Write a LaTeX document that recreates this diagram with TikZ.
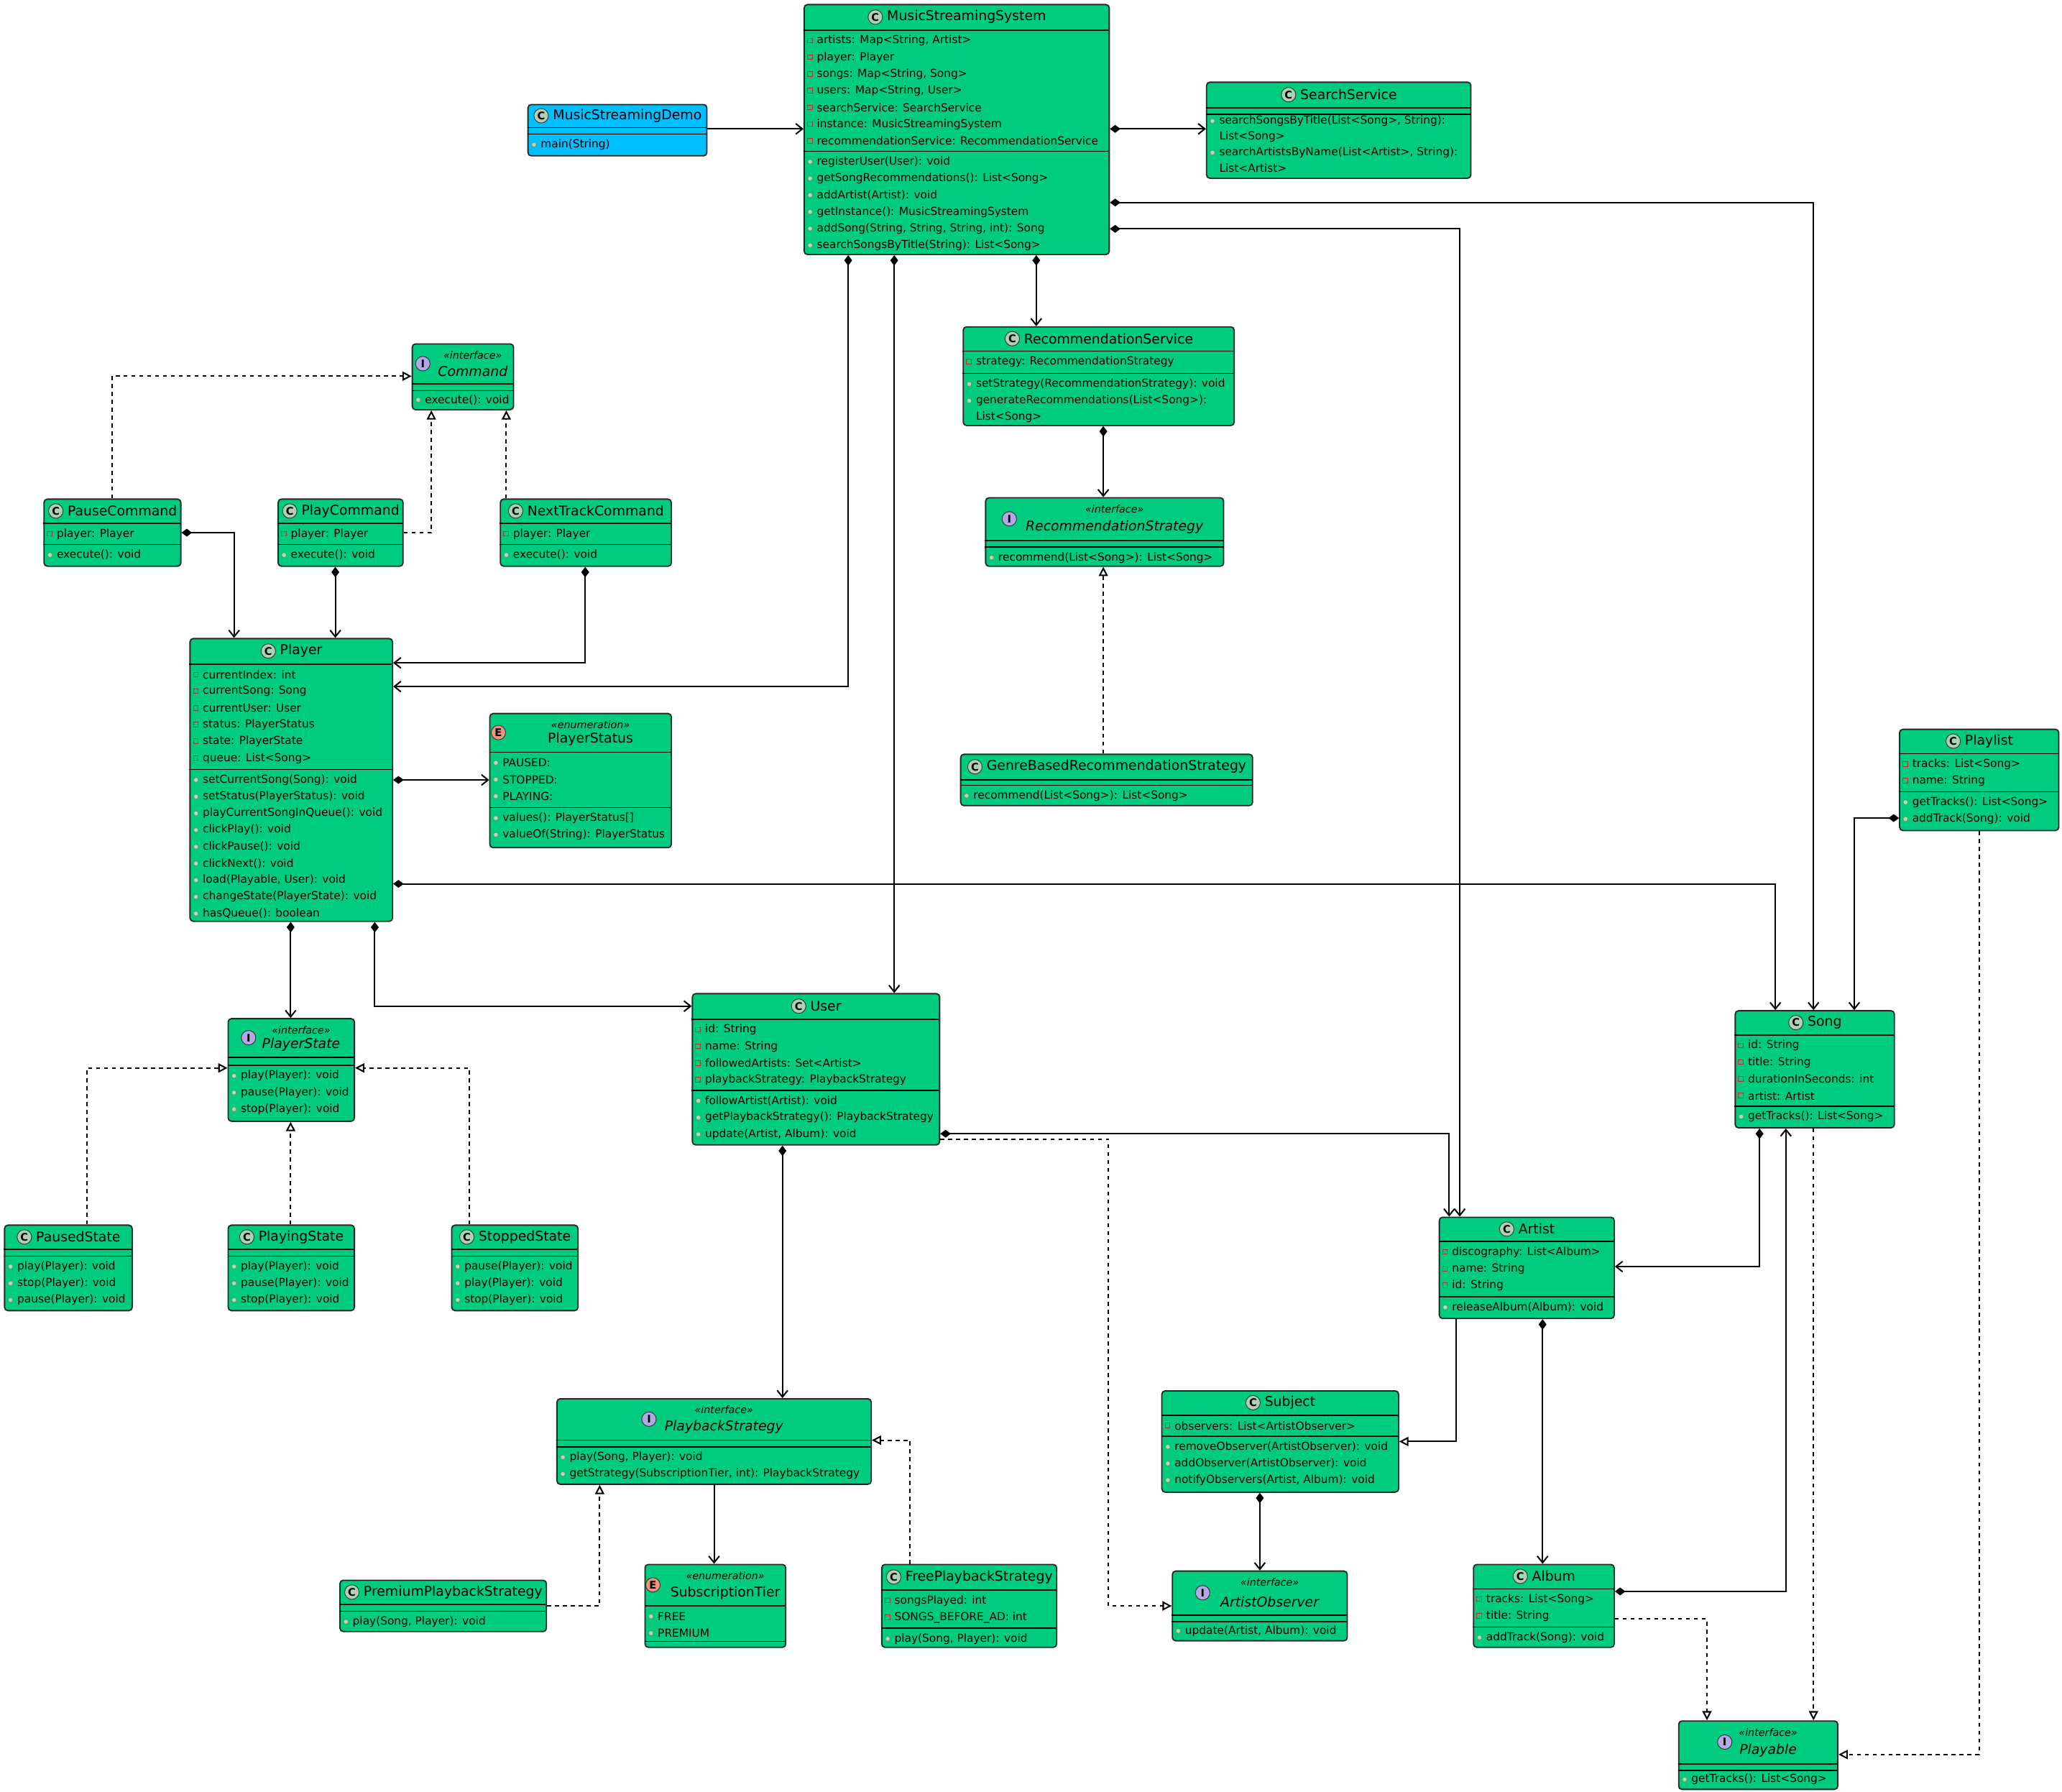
\documentclass[tikz,border=0pt]{standalone}
\usepackage{fontspec}
\setmainfont{DejaVu Sans}
\usetikzlibrary{arrows.meta,positioning}
\definecolor{cfill}{HTML}{00CC80}
\definecolor{dfill}{HTML}{00BFFF}
\definecolor{cc}{HTML}{ADD1B2}
\definecolor{ci}{HTML}{B4A7E5}
\definecolor{ce}{HTML}{EB937F}
\definecolor{privc}{HTML}{C82930}
\definecolor{pubc}{HTML}{84BE84}
\tikzset{
 cbox/.style={draw=black!85,line width=1pt,rounded corners=2.5pt,inner sep=0pt},
 mem/.style={font=\fontsize{8.4}{9}\selectfont,inner sep=0pt,anchor=west},
 ttl/.style={font=\fontsize{10.3}{12}\selectfont,inner sep=0pt},
 ster/.style={font=\fontsize{7.8}{9}\selectfont\itshape,inner sep=0pt},
 circ/.style={circle,draw=black!80,line width=0.5pt,inner sep=0pt,minimum size=11pt,font=\fontsize{8}{8}\selectfont\bfseries},
 comp/.style={line width=1.1pt,{Diamond[length=8pt,width=6pt]}-{Straight Barb[length=5pt,width=8pt]}},
 assoc/.style={line width=1.1pt,-{Straight Barb[length=5pt,width=8pt]}},
 real/.style={line width=1.1pt,dash pattern=on 3pt off 3pt,-{Triangle[open,length=7pt,width=7pt,fill=white]}},
 ext/.style={line width=1.1pt,-{Triangle[open,length=7pt,width=7pt,fill=white]}},
}
\newcommand\clsbox[6]{\node[cbox,fill=#6,minimum width={#4-#2},minimum height={#5-#3},anchor=north west] (#1) at (#2,#3) {};}
\newcommand\phead[7]{\node[ttl] (tmpt) at ({(#1+#2)/2+8},{(#3+#4)/2}) {#7};
 \node[circ,fill=#6,left=3pt of tmpt] {#5};
 \draw[line width=0.9pt] (#1,#4)--(#2,#4);}
\newcommand\sep[3]{\draw[line width=0.9pt] (#1,#3)--(#2,#3);}
\newcommand\rows[4]{\foreach \t [count=\i] in {#4} {
 \node[mem] at ({#1+10},{#2+8+(\i-1)*12.7}) {\t};
 \ifx#3p\draw[privc,line width=0.5pt] ({#1+3},{#2+6+(\i-1)*12.7}) rectangle ++(3.6,3.6);\fi
 \ifx#3u\draw[pubc!80!black,fill=pubc!60,line width=0.4pt] ({#1+5},{#2+8+(\i-1)*12.7}) circle (1.8);\fi
}}
\newcommand\sheadc[9]{\node[ster] (tmps) at ({(#1+#2)/2+8},{#3+9}) {#7};
 \node[ttl] (tmpt) at ({(#1+#2)/2+8},{#4-10}) {#8};
 \node[circ,fill=#6] at ({(#1+#2)/2+8-#9},{(#3+#4)/2}) {#5};
 \draw[line width=0.9pt] (#1,#4)--(#2,#4);}
\begin{document}
\begin{tikzpicture}[x=1pt,y=-1pt]
\useasboundingbox (0,0) rectangle (1568,1362);
% MusicStreamingDemo
\clsbox{demo}{401}{79}{537}{118}{dfill}
\phead{401}{537}{79}{97}{C}{cc}{MusicStreamingDemo}
\sep{401}{537}{102}
\rows{401}{102}{u}{{main(String)}}
% MusicStreamingSystem
\clsbox{mss}{611}{3}{843}{193}{cfill}
\phead{611}{843}{3}{23}{C}{cc}{MusicStreamingSystem}
\rows{611}{23}{p}{{artists: Map<String, Artist>},{player: Player},{songs: Map<String, Song>},{users: Map<String, User>},{searchService: SearchService},{instance: MusicStreamingSystem},{recommendationService: RecommendationService}}
\sep{611}{843}{115}
\rows{611}{115}{u}{{registerUser(User): void},{getSongRecommendations(): List<Song>},{addArtist(Artist): void},{getInstance(): MusicStreamingSystem},{addSong(String, String, String, int): Song},{searchSongsByTitle(String): List<Song>}}
% SearchService
\clsbox{ss}{917}{62}{1118}{135}{cfill}
\phead{917}{1118}{62}{82}{C}{cc}{SearchService}
\sep{917}{1118}{87}
\rows{917}{84}{u}{{searchSongsByTitle(List<Song>, String):}}
\rows{917}{96}{n}{{List<Song>}}
\rows{917}{108}{u}{{searchArtistsByName(List<Artist>, String):}}
\rows{917}{120}{n}{{List<Artist>}}
% RecommendationService
\clsbox{rs}{732}{248}{938}{323}{cfill}
\phead{732}{938}{248}{267}{C}{cc}{RecommendationService}
\rows{732}{267}{p}{{strategy: RecommendationStrategy}}
\sep{732}{938}{284}
\rows{732}{284}{u}{{setStrategy(RecommendationStrategy): void},{generateRecommendations(List<Song>):}}
\rows{732}{309.4}{n}{{List<Song>}}
% RecommendationStrategy
\clsbox{rst}{749}{378}{930}{430}{cfill}
\sheadc{749}{930}{378}{411}{I}{ci}{«interface»}{\itshape RecommendationStrategy}{80}
\sep{749}{930}{416}
\rows{749}{416}{u}{{recommend(List<Song>): List<Song>}}
% GenreBased
\clsbox{gb}{730}{573}{952}{612}{cfill}
\phead{730}{952}{573}{593}{C}{cc}{GenreBasedRecommendationStrategy}
\sep{730}{952}{597}
\rows{730}{597}{u}{{recommend(List<Song>): List<Song>}}
% Command
\clsbox{cmd}{313}{261}{390}{311}{cfill}
\sheadc{313}{390}{261}{292}{I}{ci}{«interface»}{\itshape Command}{38}
\sep{313}{390}{297}
\rows{313}{296}{u}{{execute(): void}}
% PauseCommand
\clsbox{pc}{33}{379}{137}{430}{cfill}
\phead{33}{137}{379}{398}{C}{cc}{PauseCommand}
\rows{33}{398}{p}{{player: Player}}
\sep{33}{137}{414}
\rows{33}{414}{u}{{execute(): void}}
% PlayCommand
\clsbox{plc}{211}{379}{306}{430}{cfill}
\phead{211}{306}{379}{398}{C}{cc}{PlayCommand}
\rows{211}{398}{p}{{player: Player}}
\sep{211}{306}{414}
\rows{211}{414}{u}{{execute(): void}}
% NextTrackCommand
\clsbox{nc}{380}{379}{510}{430}{cfill}
\phead{380}{510}{379}{398}{C}{cc}{NextTrackCommand}
\rows{380}{398}{p}{{player: Player}}
\sep{380}{510}{414}
\rows{380}{414}{u}{{execute(): void}}
% Player
\clsbox{pl}{144}{485}{298}{700}{cfill}
\phead{144}{298}{485}{505}{C}{cc}{Player}
\rows{144}{505}{p}{{currentIndex: int},{currentSong: Song},{currentUser: User},{status: PlayerStatus},{state: PlayerState},{queue: List<Song>}}
\sep{144}{298}{585}
\rows{144}{585}{u}{{setCurrentSong(Song): void},{setStatus(PlayerStatus): void},{playCurrentSongInQueue(): void},{clickPlay(): void},{clickPause(): void},{clickNext(): void},{load(Playable, User): void},{changeState(PlayerState): void},{hasQueue(): boolean}}
% PlayerStatus
\clsbox{ps}{372}{542}{510}{644}{cfill}
\sheadc{372}{510}{542}{572}{E}{ce}{«enumeration»}{PlayerStatus}{70}
\rows{372}{572}{u}{{PAUSED:},{STOPPED:},{PLAYING:}}
\sep{372}{510}{614}
\rows{372}{614}{u}{{values(): PlayerStatus[]},{valueOf(String): PlayerStatus}}
% PlayerState
\clsbox{pst}{173}{774}{269}{852}{cfill}
\sheadc{173}{269}{774}{804}{I}{ci}{«interface»}{\itshape PlayerState}{40}
\sep{173}{269}{810}
\rows{173}{810}{u}{{play(Player): void},{pause(Player): void},{stop(Player): void}}
% states
\clsbox{pas}{3}{931}{100}{996}{cfill}
\phead{3}{100}{931}{950}{C}{cc}{PausedState}
\sep{3}{100}{955}
\rows{3}{955}{u}{{play(Player): void},{stop(Player): void},{pause(Player): void}}
\clsbox{pys}{173}{931}{269}{996}{cfill}
\phead{173}{269}{931}{950}{C}{cc}{PlayingState}
\sep{173}{269}{955}
\rows{173}{955}{u}{{play(Player): void},{pause(Player): void},{stop(Player): void}}
\clsbox{sts}{343}{931}{439}{996}{cfill}
\phead{343}{439}{931}{950}{C}{cc}{StoppedState}
\sep{343}{439}{955}
\rows{343}{955}{u}{{pause(Player): void},{play(Player): void},{stop(Player): void}}
% User
\clsbox{us}{526}{755}{714}{870}{cfill}
\phead{526}{714}{755}{775}{C}{cc}{User}
\rows{526}{775}{p}{{id: String},{name: String},{followedArtists: Set<Artist>},{playbackStrategy: PlaybackStrategy}}
\sep{526}{714}{829}
\rows{526}{829}{u}{{followArtist(Artist): void},{getPlaybackStrategy(): PlaybackStrategy},{update(Artist, Album): void}}
% PlaybackStrategy
\clsbox{pbs}{423}{1063}{662}{1128}{cfill}
\sheadc{423}{662}{1063}{1095}{I}{ci}{«interface»}{\itshape PlaybackStrategy}{57}
\sep{423}{662}{1100}
\rows{423}{1100}{u}{{play(Song, Player): void},{getStrategy(SubscriptionTier, int): PlaybackStrategy}}
% Premium
\clsbox{pps}{258}{1201}{415}{1240}{cfill}
\phead{258}{415}{1201}{1220}{C}{cc}{PremiumPlaybackStrategy}
\sep{258}{415}{1225}
\rows{258}{1225}{u}{{play(Song, Player): void}}
% SubscriptionTier
\clsbox{st}{490}{1189}{597}{1252}{cfill}
\sheadc{490}{597}{1189}{1221}{E}{ce}{«enumeration»}{SubscriptionTier}{55}
\rows{490}{1221}{u}{{FREE},{PREMIUM}}
\sep{490}{597}{1248}
% FreePlayback
\clsbox{fps}{670}{1189}{803}{1252}{cfill}
\phead{670}{803}{1189}{1209}{C}{cc}{FreePlaybackStrategy}
\rows{670}{1209}{p}{{songsPlayed: int},{SONGS\_BEFORE\_AD: int}}
\sep{670}{803}{1238}
\rows{670}{1238}{u}{{play(Song, Player): void}}
% Subject
\clsbox{sub}{883}{1057}{1063}{1134}{cfill}
\phead{883}{1063}{1057}{1076}{C}{cc}{Subject}
\rows{883}{1076}{p}{{observers: List<ArtistObserver>}}
\sep{883}{1063}{1092}
\rows{883}{1092}{u}{{removeObserver(ArtistObserver): void},{addObserver(ArtistObserver): void},{notifyObservers(Artist, Album): void}}
% ArtistObserver
\clsbox{ao}{891}{1194}{1024}{1247}{cfill}
\sheadc{891}{1024}{1194}{1228}{I}{ci}{«interface»}{\itshape ArtistObserver}{51}
\sep{891}{1024}{1233}
\rows{891}{1232}{u}{{update(Artist, Album): void}}
% Artist
\clsbox{ar}{1094}{925}{1227}{1002}{cfill}
\phead{1094}{1227}{925}{944}{C}{cc}{Artist}
\rows{1094}{944}{p}{{discography: List<Album>},{name: String},{id: String}}
\sep{1094}{1227}{986}
\rows{1094}{986}{u}{{releaseAlbum(Album): void}}
% Album
\clsbox{al}{1120}{1189}{1227}{1252}{cfill}
\phead{1120}{1227}{1189}{1208}{C}{cc}{Album}
\rows{1120}{1208}{p}{{tracks: List<Song>},{title: String}}
\sep{1120}{1227}{1237}
\rows{1120}{1237}{u}{{addTrack(Song): void}}
% Song
\clsbox{so}{1319}{768}{1440}{857}{cfill}
\phead{1319}{1440}{768}{787}{C}{cc}{Song}
\rows{1319}{787}{p}{{id: String},{title: String},{durationInSeconds: int},{artist: Artist}}
\sep{1319}{1440}{841}
\rows{1319}{841}{u}{{getTracks(): List<Song>}}
% Playlist
\clsbox{pli}{1444}{554}{1565}{631}{cfill}
\phead{1444}{1565}{554}{573}{C}{cc}{Playlist}
\rows{1444}{573}{p}{{tracks: List<Song>},{name: String}}
\sep{1444}{1565}{602}
\rows{1444}{602}{u}{{getTracks(): List<Song>},{addTrack(Song): void}}
% Playable
\clsbox{pa}{1276}{1308}{1397}{1360}{cfill}
\sheadc{1276}{1397}{1308}{1341}{I}{ci}{«interface»}{\itshape Playable}{33}
\sep{1276}{1397}{1346}
\rows{1276}{1345}{u}{{getTracks(): List<Song>}}
% ---- connectors
\draw[assoc] (demo.east |- 0,98) -- (mss.west |- 0,98);
\draw[comp] (mss.east |- 0,98) -- (ss.west |- 0,98);
\draw[comp] (mss.east |- 0,154) -| (so.north -| 1379,0);
\draw[comp] (mss.east |- 0,174) -| (ar.north -| 1110,0);
\draw[comp] (mss.south -| 645,0) |- (pl.east |- 0,522);
\draw[comp] (mss.south -| 680,0) -- (us.north -| 680,0);
\draw[comp] (mss.south -| 788,0) -- (rs.north -| 788,0);
\draw[comp] (rs.south -| 839,0) -- (rst.north -| 839,0);
\draw[real] (gb.north -| 839,0) -- (rst.south -| 839,0);
\draw[real] (pc.north -| 85,0) |- (cmd.west |- 0,286);
\draw[real] (plc.east |- 0,405) -| (cmd.south -| 328,0);
\draw[real] (nc.north -| 385,0) -- (cmd.south -| 385,0);
\draw[comp] (pc.east |- 0,405) -| (pl.north -| 178,0);
\draw[comp] (plc.south -| 255,0) -- (pl.north -| 255,0);
\draw[comp] (nc.south -| 445,0) |- (pl.east |- 0,504);
\draw[comp] (pl.east |- 0,593) -- (ps.west |- 0,593);
\draw[comp] (pl.east |- 0,672) -| (so.north -| 1350,0);
\draw[comp] (pl.south -| 221,0) -- (pst.north -| 221,0);
\draw[comp] (pl.south -| 285,0) |- (us.west |- 0,765);
\draw[real] (pas.north -| 66,0) |- (pst.west |- 0,812);
\draw[real] (pys.north -| 221,0) -- (pst.south -| 221,0);
\draw[real] (sts.north -| 357,0) |- (pst.east |- 0,812);
\draw[comp] (us.east |- 0,862) -| (ar.north -| 1102,0);
\draw[real] (us.east |- 0,866) -| (843,1221) -- (ao.west |- 0,1221);
\draw[comp] (us.south -| 595,0) -- (pbs.north -| 595,0);
\draw[assoc] (pbs.south -| 543,0) -- (st.north -| 543,0);
\draw[real] (pps.east |- 0,1221) -| (pbs.south -| 456,0);
\draw[real] (fps.north -| 692,0) |- (pbs.east |- 0,1095);
\draw[ext] (ar.south -| 1107,0) |- (sub.east |- 0,1096);
\draw[comp] (sub.south -| 958,0) -- (ao.north -| 958,0);
\draw[comp] (ar.south -| 1173,0) -- (al.north -| 1173,0);
\draw[comp] (so.south -| 1338,0) |- (ar.east |- 0,963);
\draw[comp] (al.east |- 0,1210) -| (so.south -| 1358,0);
\draw[real] (al.east |- 0,1231) -| (pa.north -| 1298,0);
\draw[real] (so.south -| 1379,0) -- (pa.north -| 1379,0);
\draw[real] (pli.south -| 1505,0) |- (pa.east |- 0,1334);
\draw[comp] (pli.west |- 0,622) -| (so.north -| 1410,0);
\end{tikzpicture}
\end{document}
